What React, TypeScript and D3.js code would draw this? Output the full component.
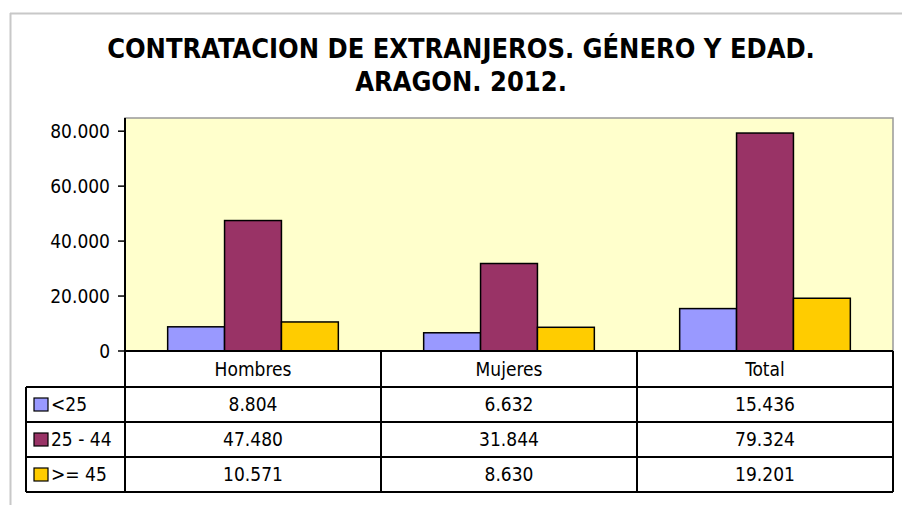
import * as d3 from 'd3';

const categories = ['Hombres', 'Mujeres', 'Total'];
const seriesNames = ['<25', '25 - 44', '>= 45'];
const seriesColors = ['#9999FF', '#993366', '#FFCC00'];
const under25 = [8804, 6632, 15436];
const from25to44 = [47480, 31844, 79324];
const over45 = [10571, 8630, 19201];
const yTicks = [0, 20000, 40000, 60000, 80000];
const titleLines = ['CONTRATACION DE EXTRANJEROS. GÉNERO Y EDAD.', 'ARAGON. 2012.'];

const values = [under25, from25to44, over45];
const fmt = (v: number) => d3.format(',')(v).replace(/,/g, '.');

const W = 902;
const H = 505;
const plot = { left: 125, right: 893, top: 118, bottom: 351 };
const tableLeft = 26;
const headerBottom = 387;
const rowH = 35;
const font = '"DejaVu Sans Condensed", "DejaVu Sans", sans-serif';
const fs = 19;

export default function App() {
  const x = d3.scaleBand().domain(categories).range([plot.left, plot.right]).paddingInner(0).paddingOuter(0);
  // Excel gap width 150%: half a gap on each side of the 3-bar group
  const inner = d3.scaleBand().domain(seriesNames).range([0, x.bandwidth()]).paddingInner(0).paddingOuter(0.75);
  const y = d3.scaleLinear().domain([0, 84800]).range([plot.bottom, plot.top]);

  const rowTop = (i: number) => headerBottom + i * rowH;

  return (
    <svg width={W} height={H} style={{ position: 'absolute', left: 0, top: 0 }} fontFamily={font}>
      <rect x={0} y={0} width={W} height={H} fill="#fff" />
      {/* outer chart border */}
      <line x1={10} x2={W} y1={13.5} y2={13.5} stroke="#c8c8c8" strokeWidth={2} />
      <line x1={10.5} x2={10.5} y1={13} y2={H} stroke="#c8c8c8" strokeWidth={2} />

      {titleLines.map((t, i) => (
        <text key={t} x={W / 2 + 10} y={58 + i * 33} textAnchor="middle" fontWeight="bold" fontSize={27} fill="#000">
          {t}
        </text>
      ))}

      {/* plot area */}
      <rect
        x={plot.left}
        y={plot.top}
        width={plot.right - plot.left}
        height={plot.bottom - plot.top}
        fill="#FFFFCC"
        stroke="#999"
        strokeWidth={1.5}
      />

      {categories.map((c, ci) =>
        seriesNames.map((s, si) => {
          const v = values[si][ci];
          const bx = (x(c) ?? 0) + (inner(s) ?? 0);
          return (
            <rect
              key={c + s}
              x={bx}
              y={y(v)}
              width={inner.bandwidth()}
              height={y(0) - y(v)}
              fill={seriesColors[si]}
              stroke="#000"
              strokeWidth={1.5}
            />
          );
        })
      )}

      {/* y axis */}
      <line x1={plot.left} x2={plot.left} y1={plot.top} y2={plot.bottom} stroke="#000" strokeWidth={2} />
      {yTicks.map((t) => (
        <g key={t}>
          <line x1={118} x2={plot.left} y1={y(t)} y2={y(t)} stroke="#000" strokeWidth={1.5} />
          <text x={110} y={y(t)} dy="0.36em" textAnchor="end" fontSize={fs} fill="#000">
            {fmt(t)}
          </text>
        </g>
      ))}

      {/* data table */}
      <g stroke="#000" strokeWidth={2} fill="none">
        <line x1={plot.left} x2={plot.right} y1={plot.bottom} y2={plot.bottom} />
        {[0, 1, 2, 3].map((i) => (
          <line key={i} x1={tableLeft} x2={plot.right} y1={rowTop(i)} y2={rowTop(i)} />
        ))}
        <line x1={tableLeft} x2={tableLeft} y1={headerBottom} y2={rowTop(3)} />
        {categories.map((c) => (
          <line key={c} x1={x(c)} x2={x(c)} y1={plot.bottom} y2={rowTop(3)} />
        ))}
        <line x1={plot.right} x2={plot.right} y1={plot.bottom} y2={rowTop(3)} />
      </g>

      {categories.map((c) => (
        <text
          key={c}
          x={(x(c) ?? 0) + x.bandwidth() / 2}
          y={(plot.bottom + headerBottom) / 2}
          dy="0.36em"
          textAnchor="middle"
          fontSize={fs}
          fill="#000"
        >
          {c}
        </text>
      ))}

      {seriesNames.map((s, si) => {
        const cy = rowTop(si) + rowH / 2;
        return (
          <g key={s}>
            <rect x={34} y={cy - 6.5} width={14} height={13} fill={seriesColors[si]} stroke="#000" strokeWidth={1.2} />
            <text x={51} y={cy} dy="0.36em" fontSize={fs} fill="#000">
              {s}
            </text>
            {categories.map((c, ci) => (
              <text
                key={c}
                x={(x(c) ?? 0) + x.bandwidth() / 2}
                y={cy}
                dy="0.36em"
                textAnchor="middle"
                fontSize={fs}
                fill="#000"
              >
                {fmt(values[si][ci])}
              </text>
            ))}
          </g>
        );
      })}
    </svg>
  );
}
